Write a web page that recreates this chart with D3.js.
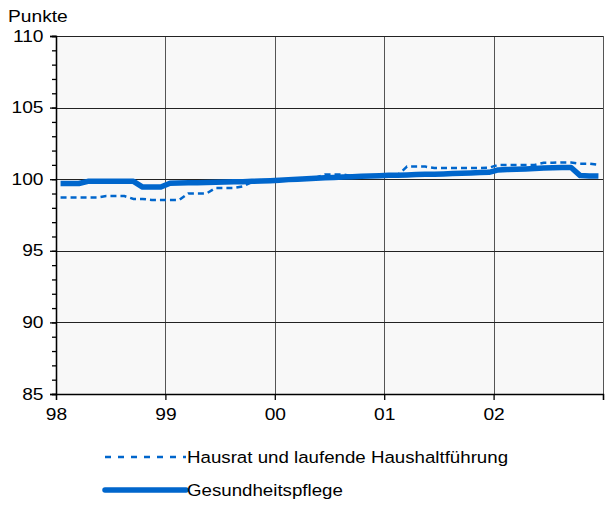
<!DOCTYPE html>
<html>
<head>
<meta charset="utf-8">
<script src="https://cdn.jsdelivr.net/npm/d3@7"></script>
<style>
  body { margin: 0; background: #fff; }
  text { font-family: "Liberation Sans", Arial, sans-serif; fill: #000; }
</style>
</head>
<body>
<div id="chart"></div>
<script>
const YEAR_LABELS = ['98', '99', '00', '01', '02'];
const Y_TICKS = [85, 90, 95, 100, 105, 110];

// monthly values Jan 1998 - Dec 2002
const hausrat = [
	98.72, 98.72, 98.72, 98.72, 98.72, 98.82, 98.82, 98.82, 98.62, 98.62, 98.55, 98.55,
	98.55, 98.55, 99.0, 99.0, 99.0, 99.38, 99.38, 99.38, 99.5, 99.8, 99.85, 99.88,
	99.9, 99.95, 100.0, 100.05, 100.1, 100.33, 100.33, 100.33, 100.2, 100.22, 100.25, 100.27,
	100.28, 100.3, 100.88, 100.88, 100.88, 100.78, 100.78, 100.78, 100.78, 100.78, 100.78, 100.8,
	101.0, 101.0, 101.0, 101.0, 101.0, 101.15, 101.15, 101.17, 101.17, 101.08, 101.08, 101.0
];
const gesundheit = [
	99.7, 99.7, 99.7, 99.85, 99.85, 99.85, 99.85, 99.85, 99.85, 99.45, 99.45, 99.45,
	99.72, 99.74, 99.75, 99.76, 99.77, 99.78, 99.8, 99.82, 99.83, 99.85, 99.87, 99.9,
	99.93, 99.97, 100.0, 100.03, 100.06, 100.1, 100.12, 100.15, 100.17, 100.2, 100.22, 100.24,
	100.27, 100.28, 100.3, 100.32, 100.34, 100.35, 100.37, 100.4, 100.42, 100.44, 100.46, 100.48,
	100.65, 100.67, 100.7, 100.72, 100.75, 100.78, 100.8, 100.82, 100.82, 100.25, 100.23, 100.22
];
const SERIES_NAMES = ['Hausrat und laufende Haushaltführung', 'Gesundheitspflege'];

const W = 607, H = 505;
const MARGIN = {top: 36, right: 4, bottom: 111, left: 56};
const BLUE = '#0066cc';
const SX = 1.2; // the original type is set wide

const svg = d3.select('#chart').append('svg')
	.attr('width', W)
	.attr('height', H);

const plotW = W - MARGIN.left - MARGIN.right;
const plotH = H - MARGIN.top - MARGIN.bottom;

const g = svg.append('g')
	.attr('transform', `translate(${MARGIN.left}, ${MARGIN.top})`);

// x in months, 0..60
const x = d3.scaleLinear().domain([0, 60]).range([0, plotW]);
const y = d3.scaleLinear().domain([85, 110]).range([plotH, 0]);

g.append('rect')
	.attr('width', plotW)
	.attr('height', plotH)
	.attr('fill', '#f8f8f8');

// gridlines
g.selectAll('.vgrid')
	.data(d3.range(1, 6))
	.join('line')
	.attr('x1', d => Math.round(x(d * 12)) + 0.5)
	.attr('x2', d => Math.round(x(d * 12)) + 0.5)
	.attr('y1', 0)
	.attr('y2', plotH)
	.attr('stroke', '#555');

g.selectAll('.hgrid')
	.data(Y_TICKS.slice(1))
	.join('line')
	.attr('x1', 0)
	.attr('x2', plotW)
	.attr('y1', d => Math.round(y(d)) + 0.5)
	.attr('y2', d => Math.round(y(d)) + 0.5)
	.attr('stroke', '#222');

// y axis with minor ticks
const yMinor = d3.axisLeft(y).tickValues(d3.range(85, 111, 1)).tickSize(4).tickFormat('');
g.append('g').attr('class', 'y minor').call(yMinor);

const yAxis = d3.axisLeft(y).tickValues(Y_TICKS).tickSize(6).tickPadding(6);
g.append('g').attr('class', 'y axis').call(yAxis)
	.call(a => a.selectAll('text')
		.attr('font-size', 16)
		.attr('x', -12.5 / SX)
		.attr('transform', `scale(${SX},1)`));

// x axis
const xAxis = d3.axisBottom(x)
	.tickValues(d3.range(0, 61, 12))
	.tickSize(6)
	.tickPadding(9)
	.tickFormat((d, i) => YEAR_LABELS[i] || '');
g.append('g').attr('class', 'x axis')
	.attr('transform', `translate(0, ${plotH})`)
	.call(xAxis)
	.call(a => a.selectAll('text')
		.attr('font-size', 16)
		.attr('transform', `scale(${SX},1)`));

svg.selectAll('.domain, .tick line').attr('stroke', '#000').attr('stroke-width', 1.3);
svg.selectAll('.tick text').attr('font-family', '"Liberation Sans", Arial, sans-serif').attr('fill', '#000');

// lines
const line = d3.line()
	.x((d, i) => x(i + 0.5))
	.y(d => y(d));

g.append('path')
	.datum(hausrat)
	.attr('fill', 'none')
	.attr('stroke', BLUE)
	.attr('stroke-width', 2.5)
	.attr('stroke-dasharray', '6,4')
	.attr('d', line);

g.append('path')
	.datum(gesundheit)
	.attr('fill', 'none')
	.attr('stroke', BLUE)
	.attr('stroke-width', 5.5)
	.attr('stroke-linejoin', 'round')
	.attr('d', line);

// unit label
svg.append('text')
	.attr('transform', `translate(8, 22) scale(${SX},1)`)
	.attr('font-size', 16)
	.text('Punkte');

// legend
const legend = svg.append('g').attr('transform', 'translate(105, 457)');
SERIES_NAMES.forEach((name, i) => {
	const row = legend.append('g').attr('transform', `translate(0, ${i * 33})`);
	row.append('line')
		.attr('x1', 0).attr('x2', 81)
		.attr('stroke', BLUE)
		.attr('stroke-width', i === 0 ? 2.5 : 5.5)
		.attr('stroke-dasharray', i === 0 ? '6,7' : null)
		.attr('stroke-linecap', i === 0 ? 'butt' : 'round');
	row.append('text')
		.attr('transform', 'translate(82, 0) scale(1.1,1)')
		.attr('dy', '0.35em')
		.attr('font-size', 17)
		.text(name);
});
</script>
</body>
</html>
